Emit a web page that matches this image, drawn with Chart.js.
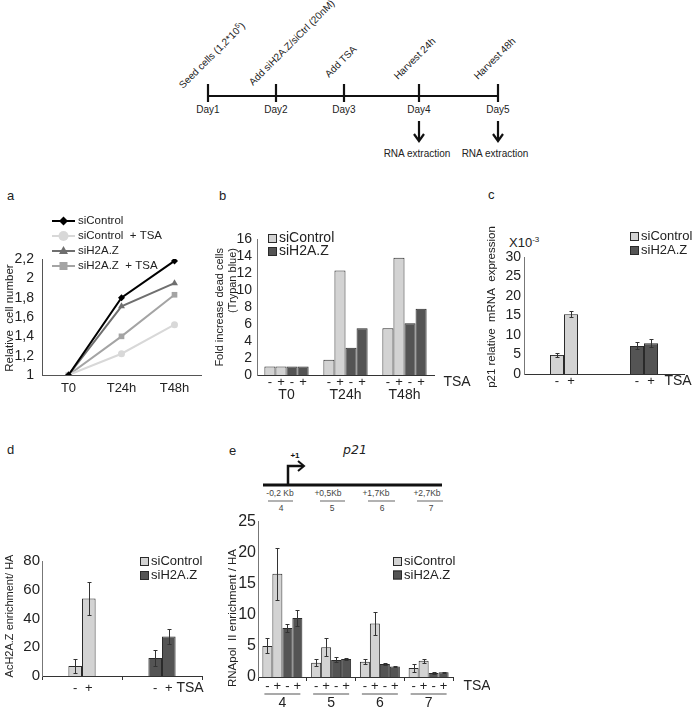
<!DOCTYPE html>
<html>
<head>
    <title>H2A.Z and TSA figure</title>
    <style>
        body { margin: 0; background: #fff; font-family: "Liberation Sans", Arial, sans-serif; }
        #fig { position: relative; width: 697px; height: 711px; overflow: hidden; }
        #fig canvas, #fig svg, .lbl { position: absolute; }
        .lbl { font-size: 13px; color: #222; line-height: 1; }
    </style>
    <script src="https://cdn.jsdelivr.net/npm/chart.js"></script>
</head>
<body>
<div id="fig">
    <!-- schematic parts: time line on top, p21 gene map above panel e -->
    <svg width="697" height="711" style="left:0;top:0">
        <g stroke="#111" stroke-width="2.2" fill="none">
            <line x1="208" y1="96" x2="498" y2="96"/>
            <line x1="208" y1="84" x2="208" y2="102"/>
            <line x1="276" y1="84" x2="276" y2="102"/>
            <line x1="344" y1="84" x2="344" y2="102"/>
            <line x1="419" y1="84" x2="419" y2="102"/>
            <line x1="498" y1="84" x2="498" y2="102"/>
            <line x1="419" y1="121" x2="419" y2="140"/>
            <polyline points="414,134 419,141 424,134"/>
            <line x1="498" y1="121" x2="498" y2="140"/>
            <polyline points="493,134 498,141 503,134"/>
        </g>
        <g font-size="10" fill="#222" text-anchor="middle">
            <text x="208" y="113">Day1</text>
            <text x="276" y="113">Day2</text>
            <text x="344" y="113">Day3</text>
            <text x="419" y="113">Day4</text>
            <text x="498" y="113">Day5</text>
            <text x="417" y="157">RNA extraction</text>
            <text x="495" y="157">RNA extraction</text>
        </g>
        <g font-size="10" fill="#222" text-rendering="geometricPrecision">
            <text transform="translate(183,89) rotate(-45)">Seed cells (1,2*10<tspan dy="-4" font-size="7">5</tspan><tspan dy="4">)</tspan></text>
            <text transform="translate(253,86) rotate(-45)">Add siH2A.Z/siCtrl (20nM)</text>
            <text transform="translate(329,78) rotate(-45)">Add TSA</text>
            <text transform="translate(398,80) rotate(-45)">Harvest 24h</text>
            <text transform="translate(478,80) rotate(-45)">Harvest 48h</text>
        </g>

        <g stroke="#111" fill="none">
            <line x1="263" y1="485" x2="442" y2="485" stroke-width="3"/>
            <polyline points="288,485 288,466 303,466" stroke-width="2.5"/>
            <polyline points="298,461 304,466 298,471" stroke-width="2"/>
        </g>
        <text x="295" y="458" font-size="8" font-weight="bold" text-anchor="middle" fill="#111">+1</text>
        <text x="355" y="454" font-size="12.5" font-style="italic" font-family="DejaVu Sans" text-anchor="middle" fill="#222">p21</text>
        <g font-size="8.5" fill="#444" text-anchor="middle">
            <text x="280" y="496">-0,2 Kb</text>
            <text x="328" y="496">+0,5Kb</text>
            <text x="376" y="496">+1,7Kb</text>
            <text x="427" y="496">+2,7Kb</text>
            <text x="281" y="511">4</text>
            <text x="332" y="511">5</text>
            <text x="382" y="511">6</text>
            <text x="431" y="511">7</text>
        </g>
        <g stroke="#999" stroke-width="1.5">
            <line x1="268" y1="501" x2="293" y2="501"/>
            <line x1="320" y1="501" x2="345" y2="501"/>
            <line x1="368" y1="501" x2="395" y2="501"/>
            <line x1="417" y1="501" x2="443" y2="501"/>
        </g>
    </svg>

    <div class="lbl" style="left:7px;top:189px">a</div>
    <div class="lbl" style="left:219px;top:189px">b</div>
    <div class="lbl" style="left:488px;top:188px">c</div>
    <div class="lbl" style="left:7px;top:443px">d</div>
    <div class="lbl" style="left:229px;top:444px">e</div>
    <div class="lbl" style="left:509px;top:236px;font-size:13px">X10<sup style="font-size:8px">-3</sup></div>

    <canvas id="chartA" width="215" height="200" style="left:0;top:205px"></canvas>
    <canvas id="chartB" width="270" height="200" style="left:215px;top:205px"></canvas>
    <canvas id="chartC" width="212" height="200" style="left:485px;top:205px"></canvas>
    <canvas id="chartD" width="230" height="171" style="left:0;top:540px"></canvas>
    <canvas id="chartE" width="265" height="201" style="left:225px;top:510px"></canvas>
</div>

<script>
    // a: relative cell number
    const timepoints = ['T0', 'T24h', 'T48h'];
    const cellSiControl = [1, 1.8, 2.18];
    const cellSiControlTSA = [1, 1.22, 1.52];
    const cellSiH2AZ = [1, 1.71, 1.95];
    const cellSiH2AZTSA = [1, 1.4, 1.83];

    // b: fold increase dead cells (- TSA / + TSA)
    const deadSiControl = [1, 1.8, 5.5];
    const deadSiControlTSA = [1, 12.3, 13.8];
    const deadSiH2AZ = [1, 3.2, 6.1];
    const deadSiH2AZTSA = [1, 5.5, 7.8];

    // c: p21 mRNA (x10^-3), order: -TSA, +TSA
    const knockdowns = ['siControl', 'siH2A.Z'];
    const p21Control = [4.9, 15.3];
    const p21ControlErr = [0.6, 0.8];
    const p21H2AZ = [7.2, 7.9];
    const p21H2AZErr = [0.9, 1.0];

    // d: AcH2A.Z enrichment / HA
    const acControl = [7, 54];
    const acControlErr = [5, 11.5];
    const acH2AZ = [12.5, 27.5];
    const acH2AZErr = [5.5, 5.5];

    // e: RNApol II enrichment / HA at p21 regions
    const regions = ['4', '5', '6', '7'];
    const polControl = [5.0, 2.3, 2.45, 1.45];
    const polControlErr = [1.2, 0.6, 0.4, 0.7];
    const polControlTSA = [16.6, 4.8, 8.6, 2.6];
    const polControlTSAErr = [4.2, 1.4, 1.85, 0.3];
    const polH2AZ = [7.9, 2.75, 2.1, 0.65];
    const polH2AZErr = [0.6, 0.4, 0.1, 0.2];
    const polH2AZTSA = [9.5, 2.9, 1.7, 0.75];
    const polH2AZTSAErr = [1.3, 0.2, 0.15, 0.1];

    const LIGHT = '#d3d3d3';
    const DARK = '#545454';
    const EDGE = '#2a2a2a';

    Chart.defaults.font.family = '"Liberation Sans", Arial, sans-serif';
    Chart.defaults.color = '#222';
    Chart.defaults.animation = false;
    Chart.defaults.plugins.legend.display = false;
    Chart.defaults.plugins.tooltip.enabled = false;

    function drawMarker(ctx, style, x, y, r, color) {
        ctx.fillStyle = color;
        ctx.beginPath();
        if (style === 'rectRot') {
            ctx.moveTo(x, y - r); ctx.lineTo(x + r, y); ctx.lineTo(x, y + r); ctx.lineTo(x - r, y);
        } else if (style === 'circle') {
            ctx.arc(x, y, r, 0, Math.PI * 2);
        } else if (style === 'triangle') {
            ctx.moveTo(x, y - r); ctx.lineTo(x + r * 0.9, y + r * 0.6); ctx.lineTo(x - r * 0.9, y + r * 0.6);
        } else {
            ctx.rect(x - r * 0.8, y - r * 0.8, r * 1.6, r * 1.6);
        }
        ctx.closePath();
        ctx.fill();
    }

    // legend drawn at a fixed spot (it overlaps the plot in panel a)
    const keyLegend = {
        id: 'keyLegend',
        afterDraw(chart, args, o) {
            if (!o.items) return;
            const ctx = chart.ctx;
            ctx.save();
            ctx.font = o.font;
            ctx.textBaseline = 'middle';
            o.items.forEach((it, i) => {
                const y = o.y + i * o.gap;
                if (it.marker) {
                    ctx.strokeStyle = it.color;
                    ctx.lineWidth = 2;
                    ctx.beginPath(); ctx.moveTo(o.x, y); ctx.lineTo(o.x + 23, y); ctx.stroke();
                    drawMarker(ctx, it.marker, o.x + 11.5, y, it.size, it.color);
                    ctx.fillStyle = '#222';
                    ctx.fillText(it.text, o.x + 26, y);
                } else {
                    ctx.fillStyle = it.color;
                    ctx.fillRect(o.x, y - 4, 9, 9);
                    ctx.strokeStyle = EDGE;
                    ctx.lineWidth = 1;
                    ctx.strokeRect(o.x + 0.5, y - 3.5, 8, 8);
                    ctx.fillStyle = '#222';
                    ctx.fillText(it.text, o.x + 11, y + 0.5);
                }
            });
            ctx.restore();
        }
    };

    // rotated y title at an explicit spot
    const yTitle = {
        id: 'yTitle',
        afterDraw(chart, args, o) {
            if (!o.text) return;
            const ctx = chart.ctx;
            const lines = [].concat(o.text);
            ctx.save();
            ctx.translate(o.x, o.y);
            ctx.rotate(-Math.PI / 2);
            ctx.font = o.font;
            ctx.fillStyle = '#222';
            ctx.textAlign = o.align || 'center';
            ctx.textBaseline = 'middle';
            lines.forEach((t, i) => ctx.fillText(t, 0, (i - (lines.length - 1) / 2) * (o.lineHeight || 13)));
            ctx.restore();
        }
    };

    // error bars from dataset.errors
    const errorBars = {
        id: 'errorBars',
        afterDatasetsDraw(chart) {
            const ctx = chart.ctx, y = chart.scales.y;
            ctx.save();
            ctx.strokeStyle = '#333';
            ctx.lineWidth = 1;
            chart.data.datasets.forEach((ds, i) => {
                if (!ds.errors) return;
                chart.getDatasetMeta(i).data.forEach((bar, j) => {
                    const v = ds.data[j], e = ds.errors[j];
                    if (v == null || e == null) return;
                    const top = Math.round(y.getPixelForValue(v + e)) + 0.5;
                    const bot = Math.round(y.getPixelForValue(Math.max(v - e, 0))) + 0.5;
                    const x = Math.round(bar.x) + 0.5;
                    ctx.beginPath();
                    ctx.moveTo(x, top); ctx.lineTo(x, bot);
                    ctx.moveTo(x - 2, top); ctx.lineTo(x + 2, top);
                    ctx.moveTo(x - 2, bot); ctx.lineTo(x + 2, bot);
                    ctx.stroke();
                });
            });
            ctx.restore();
        }
    };

    // "- + - +" under each bar, plus the TSA tag (and an optional rule under each group)
    const signRow = {
        id: 'signRow',
        afterDraw(chart, args, o) {
            if (o.dy == null) return;
            const ctx = chart.ctx, area = chart.chartArea;
            const y = area.bottom + o.dy;
            ctx.save();
            ctx.font = '13px "Liberation Sans", Arial, sans-serif';
            ctx.fillStyle = '#222';
            ctx.textAlign = 'center';
            ctx.textBaseline = 'middle';
            const spans = [];
            chart.data.datasets.forEach((ds, i) => {
                chart.getDatasetMeta(i).data.forEach((bar, j) => {
                    if (ds.data[j] == null) return;
                    ctx.fillText(ds.sign, bar.x, y);
                    const s = spans[j] || (spans[j] = [Infinity, -Infinity]);
                    s[0] = Math.min(s[0], bar.x - bar.width / 2);
                    s[1] = Math.max(s[1], bar.x + bar.width / 2);
                });
            });
            ctx.font = '14px "Liberation Sans", Arial, sans-serif';
            ctx.fillText('TSA', area.right + o.tsaX, y);
            if (o.ruleDy) {
                ctx.strokeStyle = '#555';
                ctx.lineWidth = 1.2;
                spans.forEach(s => {
                    if (!s) return;
                    ctx.beginPath();
                    ctx.moveTo(s[0] + 2, area.bottom + o.ruleDy);
                    ctx.lineTo(s[1] - 2, area.bottom + o.ruleDy);
                    ctx.stroke();
                });
            }
            ctx.restore();
        }
    };

    function yAxis(width, max, step, size, pad, color) {
        return {
            min: 0, max: max,
            afterFit: s => { s.width = width; },
            grid: { display: false, drawTicks: false },
            border: { color: color || '#777' },
            ticks: { stepSize: step, padding: pad, autoSkip: false, font: { size: size } }
        };
    }

    function bar(label, data, errors, color, sign) {
        return { label, data, errors, sign, backgroundColor: color, borderColor: EDGE, borderWidth: 1,
                 barPercentage: 1, skipNull: true };
    }

    const boxItems = [
        { text: 'siControl', color: LIGHT },
        { text: 'siH2A.Z', color: DARK }
    ];

    // a
    new Chart(document.getElementById('chartA'), {
        type: 'line',
        data: {
            labels: timepoints,
            datasets: [
                { label: 'siControl', data: cellSiControl, borderColor: '#000', backgroundColor: '#000',
                  pointStyle: 'rectRot', pointRadius: 3.5 },
                { label: 'siControl + TSA', data: cellSiControlTSA, borderColor: '#d8d8d8', backgroundColor: '#d8d8d8',
                  pointStyle: 'circle', pointRadius: 3.5 },
                { label: 'siH2A.Z', data: cellSiH2AZ, borderColor: '#6f6f6f', backgroundColor: '#6f6f6f',
                  pointStyle: 'triangle', pointRadius: 4 },
                { label: 'siH2A.Z + TSA', data: cellSiH2AZTSA, borderColor: '#a4a4a4', backgroundColor: '#a4a4a4',
                  pointStyle: 'rect', pointRadius: 4 }
            ]
        },
        options: {
            responsive: false,
            layout: { padding: { top: 54, right: 14, left: 0, bottom: 0 } },
            elements: { line: { borderWidth: 2, tension: 0 }, point: { borderWidth: 0 } },
            scales: {
                x: {
                    offset: true,
                    afterFit: s => { s.height = 30; },
                    grid: { display: false, drawTicks: false },
                    border: { color: '#555' },
                    ticks: { padding: 6, font: { size: 13 } }
                },
                y: {
                    min: 1, max: 2.2,
                    afterFit: s => { s.width = 42; },
                    grid: { display: false, drawTicks: false },
                    border: { color: '#555' },
                    ticks: {
                        stepSize: 0.2, padding: 8, autoSkip: false, font: { size: 14 },
                        callback: v => String(Number(v.toFixed(1))).replace('.', ',')
                    }
                }
            },
            plugins: {
                keyLegend: {
                    x: 52, y: 16, gap: 15, font: '11.5px "Liberation Sans", Arial, sans-serif',
                    items: [
                        { text: 'siControl', color: '#000', marker: 'rectRot', size: 4.5 },
                        { text: 'siControl  + TSA', color: '#d8d8d8', marker: 'circle', size: 5 },
                        { text: 'siH2A.Z', color: '#6f6f6f', marker: 'triangle', size: 5 },
                        { text: 'siH2A.Z  + TSA', color: '#a4a4a4', marker: 'rect', size: 5 }
                    ]
                },
                yTitle: { text: 'Relative  cell number', x: 10, y: 113, font: '11.5px "Liberation Sans", Arial, sans-serif' }
            }
        },
        plugins: [keyLegend, yTitle]
    });

    // b
    new Chart(document.getElementById('chartB'), {
        type: 'bar',
        data: {
            labels: timepoints,
            datasets: [
                bar('siControl -TSA', deadSiControl, null, LIGHT, '-'),
                bar('siControl +TSA', deadSiControlTSA, null, LIGHT, '+'),
                bar('siH2A.Z -TSA', deadSiH2AZ, null, DARK, '-'),
                bar('siH2A.Z +TSA', deadSiH2AZTSA, null, DARK, '+')
            ]
        },
        options: {
            responsive: false,
            layout: { padding: { top: 34, right: 51, left: 0, bottom: 0 } },
            datasets: { bar: { categoryPercentage: 0.75 } },
            scales: {
                x: {
                    afterFit: s => { s.height = 30; },
                    grid: { display: false, drawTicks: false },
                    border: { color: '#333' },
                    ticks: { padding: 12, font: { size: 14 } }
                },
                y: yAxis(42, 16, 2, 14, 5)
            },
            plugins: {
                keyLegend: { x: 53, y: 33, gap: 13, font: '14px "Liberation Sans", Arial, sans-serif', items: boxItems },
                yTitle: { text: ['Fold increase dead cells', '(Trypan blue)'], x: 11.5, y: 43, align: 'right',
                          lineHeight: 13, font: '11px "Liberation Sans", Arial, sans-serif' },
                signRow: { dy: 7, tsaX: 23 }
            }
        },
        plugins: [keyLegend, yTitle, signRow]
    });

    // c
    new Chart(document.getElementById('chartC'), {
        type: 'bar',
        data: {
            labels: knockdowns,
            datasets: [
                bar('siControl -TSA', [p21Control[0], null], [p21ControlErr[0], null], LIGHT, '-'),
                bar('siControl +TSA', [p21Control[1], null], [p21ControlErr[1], null], LIGHT, '+'),
                bar('siH2A.Z -TSA', [null, p21H2AZ[0]], [null, p21H2AZErr[0]], DARK, '-'),
                bar('siH2A.Z +TSA', [null, p21H2AZ[1]], [null, p21H2AZErr[1]], DARK, '+')
            ]
        },
        options: {
            responsive: false,
            layout: { padding: { top: 52, right: 13, left: 0, bottom: 0 } },
            datasets: { bar: { categoryPercentage: 0.35 } },
            scales: {
                x: {
                    afterFit: s => { s.height = 31; },
                    grid: { display: false, drawTicks: false },
                    border: { color: '#333' },
                    ticks: { display: false }
                },
                y: yAxis(39, 30, 5, 14, 3)
            },
            plugins: {
                keyLegend: { x: 145, y: 31, gap: 14, font: '13px "Liberation Sans", Arial, sans-serif', items: boxItems },
                yTitle: { text: 'p21 relative  mRNA  expression', x: 7, y: 102, font: '11.5px "Liberation Sans", Arial, sans-serif' },
                signRow: { dy: 7, tsaX: -6 }
            }
        },
        plugins: [errorBars, keyLegend, yTitle, signRow]
    });

    // d
    new Chart(document.getElementById('chartD'), {
        type: 'bar',
        data: {
            labels: knockdowns,
            datasets: [
                bar('siControl -TSA', [acControl[0], null], [acControlErr[0], null], LIGHT, '-'),
                bar('siControl +TSA', [acControl[1], null], [acControlErr[1], null], LIGHT, '+'),
                bar('siH2A.Z -TSA', [null, acH2AZ[0]], [null, acH2AZErr[0]], DARK, '-'),
                bar('siH2A.Z +TSA', [null, acH2AZ[1]], [null, acH2AZErr[1]], DARK, '+')
            ]
        },
        options: {
            responsive: false,
            layout: { padding: { top: 21, right: 28, left: 0, bottom: 0 } },
            datasets: { bar: { categoryPercentage: 0.34 } },
            scales: {
                x: {
                    afterFit: s => { s.height = 35; },
                    grid: { display: true, drawOnChartArea: false, drawTicks: true, tickLength: 4, color: '#333' },
                    border: { color: '#333' },
                    ticks: { display: false }
                },
                y: yAxis(42, 80, 20, 15, 2)
            },
            plugins: {
                keyLegend: { x: 140, y: 21, gap: 14, font: '13px "Liberation Sans", Arial, sans-serif', items: boxItems },
                yTitle: { text: 'AcH2A.Z enrichment/ HA', x: 10, y: 76, font: '11px "Liberation Sans", Arial, sans-serif' },
                signRow: { dy: 12, tsaX: -12 }
            }
        },
        plugins: [errorBars, keyLegend, yTitle, signRow]
    });

    // e
    new Chart(document.getElementById('chartE'), {
        type: 'bar',
        data: {
            labels: regions,
            datasets: [
                bar('siControl -TSA', polControl, polControlErr, LIGHT, '-'),
                bar('siControl +TSA', polControlTSA, polControlTSAErr, LIGHT, '+'),
                bar('siH2A.Z -TSA', polH2AZ, polH2AZErr, DARK, '-'),
                bar('siH2A.Z +TSA', polH2AZTSA, polH2AZTSAErr, DARK, '+')
            ]
        },
        options: {
            responsive: false,
            layout: { padding: { top: 10, right: 37, left: 0, bottom: 0 } },
            datasets: { bar: { categoryPercentage: 0.82 } },
            scales: {
                x: {
                    afterFit: s => { s.height = 34; },
                    grid: { display: true, drawOnChartArea: false, drawTicks: true, tickLength: 4, color: '#333' },
                    border: { color: '#333' },
                    ticks: { padding: 14, font: { size: 14 } }
                },
                y: yAxis(33, 25, 5, 16, 2)
            },
            plugins: {
                keyLegend: { x: 168, y: 51, gap: 13.5, font: '13px "Liberation Sans", Arial, sans-serif', items: boxItems },
                yTitle: { text: 'RNApol  II enrichment / HA', x: 8, y: 108, font: '11.5px "Liberation Sans", Arial, sans-serif' },
                signRow: { dy: 9, tsaX: 24, ruleDy: 17 }
            }
        },
        plugins: [errorBars, keyLegend, yTitle, signRow]
    });
</script>
</body>
</html>
